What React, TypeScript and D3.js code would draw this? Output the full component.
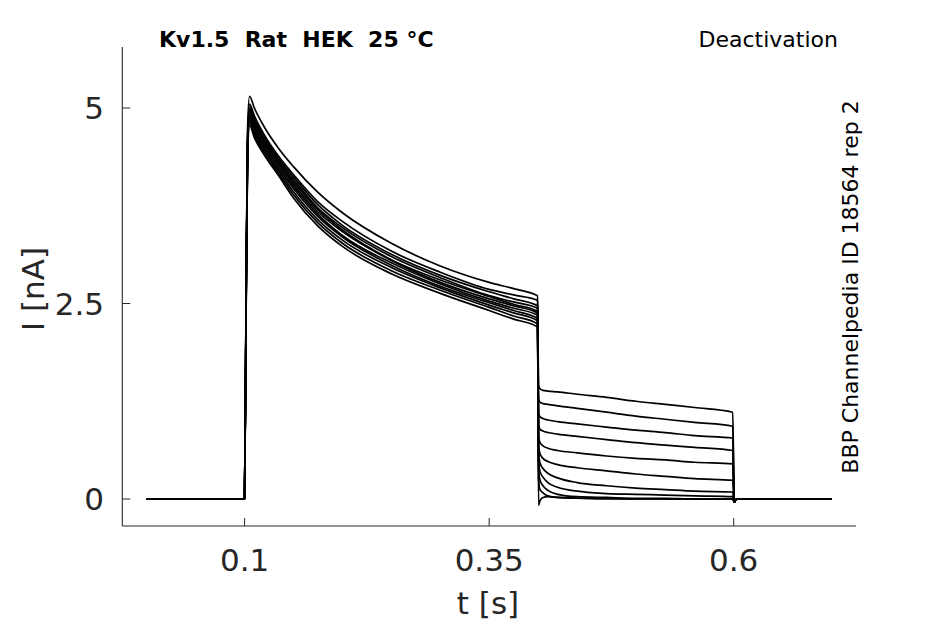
import React from 'react';
import * as d3 from 'd3';

const W = 945;
const H = 624;

const X_TICKS = [0.1, 0.35, 0.6];
const Y_TICKS = [0, 2.5, 5];
const X_LABELS = ['0.1', '0.35', '0.6'];
const Y_LABELS = ['0', '2.5', '5'];

// holding before the step
const PRE_T = [0, 0.0995];
const PRE_I = [0, 0];

// activation step (one row per sweep)
const ACT_T = [0.1, 0.1015, 0.103, 0.105, 0.11, 0.12, 0.135, 0.15, 0.175, 0.2, 0.25, 0.3, 0.35, 0.375, 0.3995];
const ACT_I = [
  [0.05, 2.6, 4.7, 5.15, 5.0, 4.76, 4.48, 4.25, 3.92, 3.66, 3.27, 2.98, 2.77, 2.69, 2.6],
  [0.03, 2.5, 4.6, 5.05, 4.9, 4.66, 4.38, 4.15, 3.8, 3.55, 3.17, 2.9, 2.68, 2.61, 2.54],
  [0.03, 2.49, 4.55, 5.01, 4.86, 4.63, 4.35, 4.12, 3.76, 3.5, 3.13, 2.86, 2.65, 2.56, 2.47],
  [0.03, 2.47, 4.52, 4.98, 4.83, 4.6, 4.33, 4.09, 3.72, 3.47, 3.1, 2.83, 2.6, 2.52, 2.44],
  [0.02, 2.44, 4.49, 4.96, 4.8, 4.58, 4.3, 4.06, 3.7, 3.44, 3.06, 2.8, 2.59, 2.49, 2.4],
  [0.02, 2.43, 4.47, 4.93, 4.77, 4.55, 4.28, 4.03, 3.67, 3.42, 3.05, 2.77, 2.56, 2.47, 2.38],
  [0.02, 2.41, 4.44, 4.91, 4.74, 4.52, 4.25, 4.0, 3.64, 3.37, 3.02, 2.75, 2.53, 2.44, 2.35],
  [0.01, 2.38, 4.41, 4.88, 4.71, 4.49, 4.22, 3.97, 3.61, 3.35, 2.99, 2.72, 2.51, 2.41, 2.31],
  [0.01, 2.36, 4.38, 4.85, 4.68, 4.46, 4.19, 3.93, 3.57, 3.31, 2.96, 2.7, 2.48, 2.38, 2.28],
  [0, 2.33, 4.34, 4.82, 4.65, 4.43, 4.16, 3.89, 3.53, 3.27, 2.92, 2.67, 2.45, 2.34, 2.24],
  [0, 2.3, 4.3, 4.78, 4.62, 4.4, 4.13, 3.85, 3.49, 3.23, 2.88, 2.63, 2.41, 2.3, 2.2],
];

// repolarisation to different voltages
const DEACT_T = [0.4005, 0.402, 0.405, 0.41, 0.42, 0.44, 0.47, 0.5, 0.53, 0.56, 0.599];
const DEACT_I = [
  [1.45, 1.41, 1.39, 1.38, 1.37, 1.34, 1.3, 1.25, 1.21, 1.17, 1.11],
  [1.28, 1.24, 1.22, 1.21, 1.19, 1.16, 1.11, 1.06, 1.02, 0.98, 0.93],
  [1.1, 1.05, 1.03, 1.01, 0.99, 0.96, 0.92, 0.88, 0.85, 0.81, 0.78],
  [0.94, 0.89, 0.87, 0.85, 0.83, 0.8, 0.76, 0.72, 0.69, 0.66, 0.62],
  [0.8, 0.72, 0.68, 0.65, 0.62, 0.59, 0.55, 0.52, 0.5, 0.47, 0.45],
  [0.68, 0.58, 0.52, 0.48, 0.44, 0.4, 0.36, 0.32, 0.29, 0.26, 0.24],
  [0.58, 0.46, 0.39, 0.33, 0.27, 0.21, 0.17, 0.14, 0.12, 0.1, 0.09],
  [0.48, 0.35, 0.28, 0.21, 0.15, 0.1, 0.07, 0.06, 0.05, 0.04, 0.03],
  [0.38, 0.24, 0.17, 0.11, 0.06, 0.03, 0.02, 0.01, 0.01, 0, 0],
  [0.26, 0.12, 0.08, 0.04, 0.02, 0.01, 0, 0, 0, 0, 0],
  [-0.08, -0.02, 0.02, 0.03, 0.02, 0.01, 0.01, 0, 0, 0, 0],
];

// back to holding
const POST_T = [0.6005, 0.603, 0.7];
const POST_I = [-0.04, 0, 0];

const AXIS = '#262626';
const FONT = 'DejaVu Sans, sans-serif';

const margin = { left: 122.3, right: 856, top: 47, bottom: 526 };

const App: React.FC = () => {
  const x = d3.scaleLinear().domain([-0.025, 0.725]).range([margin.left, margin.right]);
  const y = d3.scaleLinear().domain([-0.345, 5.78]).range([margin.bottom, margin.top]);

  const line = d3.line<[number, number]>()
    .x(d => x(d[0]))
    .y(d => y(d[1]))
    .curve(d3.curveMonotoneX);

  const sweeps = ACT_I.map((act, i) => {
    const pts: [number, number][] = [];
    PRE_T.forEach((t, k) => pts.push([t, PRE_I[k]]));
    ACT_T.forEach((t, k) => pts.push([t, act[k]]));
    DEACT_T.forEach((t, k) => pts.push([t, DEACT_I[i][k]]));
    POST_T.forEach((t, k) => pts.push([t, POST_I[k]]));
    return pts;
  });

  return (
    <div style={{ position: 'absolute', left: 0, top: 0 }}>
      <svg width={W} height={H} style={{ display: 'block', background: '#fff' }}>
        {/* traces */}
        <g fill="none" stroke="#000" strokeWidth={1.7} strokeLinejoin="round">
          {sweeps.map((pts, i) => (
            <path key={i} d={line(pts) || ''} />
          ))}
        </g>

        {/* spines */}
        <line x1={margin.left} x2={margin.left} y1={margin.top} y2={margin.bottom} stroke={AXIS} strokeWidth={1.1} />
        <line x1={margin.left} x2={margin.right} y1={margin.bottom} y2={margin.bottom} stroke={AXIS} strokeWidth={1.1} />

        {/* x ticks */}
        {X_TICKS.map((t, i) => (
          <g key={'x' + i}>
            <line x1={x(t)} x2={x(t)} y1={margin.bottom} y2={margin.bottom - 8} stroke={AXIS} strokeWidth={1} />
            <text x={x(t)} y={571} textAnchor="middle" fontFamily={FONT} fontSize={31} fill={AXIS}>
              {X_LABELS[i]}
            </text>
          </g>
        ))}

        {/* y ticks */}
        {Y_TICKS.map((t, i) => (
          <g key={'y' + i}>
            <line x1={margin.left} x2={margin.left + 8} y1={y(t)} y2={y(t)} stroke={AXIS} strokeWidth={1} />
            <text x={104} y={y(t) + 11} textAnchor="end" fontFamily={FONT} fontSize={31} fill={AXIS}>
              {Y_LABELS[i]}
            </text>
          </g>
        ))}

        {/* axis labels */}
        <text x={488} y={614} textAnchor="middle" fontFamily={FONT} fontSize={31} fill={AXIS}>t [s]</text>
        <text transform="translate(44,289) rotate(-90)" textAnchor="middle" fontFamily={FONT} fontSize={31} fill={AXIS}>
          I [nA]
        </text>

        {/* annotations */}
        <text x={159} y={47} fontFamily={FONT} fontSize={22} fontWeight="bold" fill="#000" style={{ whiteSpace: 'pre' }}>
          {'Kv1.5  Rat  HEK  25 °C'}
        </text>
        <text x={838} y={47} textAnchor="end" fontFamily={FONT} fontSize={22} fill="#000">Deactivation</text>
        <text transform="translate(858,287) rotate(-90)" textAnchor="middle" fontFamily={FONT} fontSize={22} fill="#000">
          BBP Channelpedia ID 18564 rep 2
        </text>
      </svg>
    </div>
  );
};

export default App;
